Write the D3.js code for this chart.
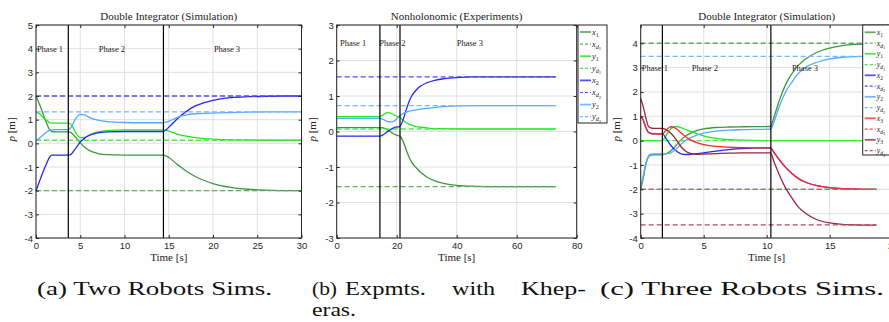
<!DOCTYPE html>
<html>
<head>
<meta charset="utf-8">
<script src="https://cdn.jsdelivr.net/npm/d3@7"></script>
<style>
  body { margin: 0; background: #fff; }
  .serif { font-family: "Liberation Serif", "DejaVu Serif", "Times New Roman", serif; }
  .sans { font-family: "Liberation Sans", Arial, Helvetica, sans-serif; }
</style>
</head>
<body>
<svg id="fig" width="889" height="322"></svg>
<script>
// ---------- data ----------
// (a) two robots, double integrator simulation
const tA  = [0, 0.4, 0.8, 1.2, 1.5, 1.8, 2.2, 3.7, 4.0, 4.5, 5, 5.5, 6, 7, 8, 10, 12, 14.4, 15, 16, 17, 18, 19, 20, 22, 24, 26, 28, 30];
const x1A = [2.0, 1.65, 1.25, 0.85, 0.6, 0.5, 0.48, 0.48, 0.44, 0.24, 0.02, -0.17, -0.3, -0.43, -0.48, -0.5, -0.5, -0.5, -0.6, -0.9, -1.18, -1.4, -1.57, -1.7, -1.86, -1.94, -1.98, -2.0, -2.0];
const y1A = [1.32, 1.25, 1.1, 0.97, 0.88, 0.85, 0.85, 0.85, 0.78, 0.45, 0.24, 0.25, 0.35, 0.48, 0.54, 0.57, 0.57, 0.57, 0.52, 0.38, 0.3, 0.24, 0.2, 0.18, 0.15, 0.14, 0.13, 0.13, 0.13];
const x2A = [-2.0, -1.6, -1.2, -0.85, -0.6, -0.5, -0.5, -0.5, -0.45, -0.2, 0.05, 0.22, 0.33, 0.44, 0.48, 0.5, 0.5, 0.5, 0.68, 1.05, 1.35, 1.58, 1.72, 1.82, 1.93, 1.97, 1.99, 2.0, 2.0];
const y2A = [0.12, 0.22, 0.35, 0.48, 0.55, 0.57, 0.58, 0.58, 0.7, 1.05, 1.22, 1.2, 1.1, 0.98, 0.92, 0.88, 0.87, 0.87, 0.93, 1.1, 1.2, 1.25, 1.27, 1.28, 1.3, 1.32, 1.33, 1.33, 1.33];
const goalsA = [-2, 0.13, 2, 1.33];          // xd1, yd1, xd2, yd2
const phaseA = [3.65, 14.4];

// (b) Khepera experiments
const tB  = [0, 14.4, 15.5, 17, 18.5, 19.5, 21, 22, 23, 24, 25, 26.5, 28, 30, 33, 36, 40, 45, 50, 60, 73];
const x1B = [0.11, 0.11, 0.1, 0.04, -0.04, -0.09, -0.13, -0.25, -0.48, -0.7, -0.87, -1.02, -1.15, -1.28, -1.4, -1.47, -1.52, -1.54, -1.55, -1.55, -1.55];
const y1B = [0.42, 0.42, 0.47, 0.53, 0.5, 0.45, 0.4, 0.33, 0.26, 0.21, 0.18, 0.14, 0.12, 0.1, 0.08, 0.08, 0.07, 0.07, 0.07, 0.07, 0.07];
const x2B = [-0.13, -0.13, -0.09, 0.0, 0.08, 0.12, 0.14, 0.3, 0.57, 0.82, 1.0, 1.17, 1.28, 1.37, 1.45, 1.49, 1.52, 1.54, 1.54, 1.54, 1.54];
const y2B = [0.37, 0.37, 0.34, 0.28, 0.27, 0.32, 0.44, 0.5, 0.54, 0.57, 0.59, 0.61, 0.63, 0.65, 0.68, 0.7, 0.72, 0.73, 0.73, 0.73, 0.73];
const goalsB = [-1.55, 0.07, 1.54, 0.73];
const phaseB = [14.4, 21.1];

// (c) three robots, double integrator simulation
const tC  = [0, 0.2, 0.4, 0.6, 0.8, 1.0, 1.74, 2.0, 2.4, 2.8, 3.2, 3.6, 4.0, 4.5, 5, 6, 7, 8, 10.3, 10.6, 11, 11.5, 12, 12.5, 13, 14, 15, 16, 17, 18.7];
const x1C = [-2.0, -1.55, -1.0, -0.68, -0.6, -0.58, -0.58, -0.55, -0.42, -0.2, 0.03, 0.2, 0.32, 0.42, 0.48, 0.54, 0.56, 0.57, 0.58, 1.0, 1.65, 2.3, 2.75, 3.08, 3.32, 3.63, 3.8, 3.9, 3.95, 3.98];
const y1C = [0, 0, 0, 0, 0, 0, 0, 0.2, 0.5, 0.58, 0.53, 0.45, 0.37, 0.28, 0.2, 0.09, 0.04, 0.02, 0, 0, 0, 0, 0, 0, 0, 0, 0, 0, 0, 0];
const x2C = [1.0, 0.85, 0.55, 0.35, 0.3, 0.28, 0.28, 0.1, -0.2, -0.42, -0.54, -0.57, -0.56, -0.53, -0.5, -0.43, -0.37, -0.33, -0.3, -0.5, -0.78, -1.1, -1.35, -1.55, -1.69, -1.85, -1.93, -1.97, -1.99, -2.0];
const y2C = [-1.9, -1.45, -0.95, -0.65, -0.56, -0.55, -0.55, -0.54, -0.5, -0.35, -0.15, 0.02, 0.13, 0.24, 0.31, 0.39, 0.43, 0.45, 0.47, 0.8, 1.4, 2.0, 2.4, 2.75, 2.98, 3.22, 3.36, 3.42, 3.45, 3.47];
const x3C = [1.0, 0.85, 0.55, 0.35, 0.3, 0.28, 0.28, 0.42, 0.57, 0.5, 0.32, 0.15, 0.02, -0.09, -0.16, -0.24, -0.27, -0.29, -0.3, -0.5, -0.78, -1.1, -1.35, -1.55, -1.69, -1.85, -1.93, -1.97, -1.99, -2.0];
const y3C = [1.73, 1.4, 0.95, 0.6, 0.52, 0.5, 0.5, 0.45, 0.3, 0.05, -0.25, -0.45, -0.53, -0.56, -0.55, -0.53, -0.51, -0.5, -0.5, -0.9, -1.4, -1.95, -2.35, -2.72, -2.95, -3.25, -3.38, -3.44, -3.46, -3.47];
const goalsC = [4, 0, -2, 3.46, -2, -3.46];  // xd1, yd1, xd2, yd2, xd3, yd3
const phaseC = [1.72, 10.33];

const phaseNames = ["Phase 1", "Phase 2", "Phase 3"];
const seriesNames = [["x", "1"], ["x", "d", "1"], ["y", "1"], ["y", "d", "1"],
                     ["x", "2"], ["x", "d", "2"], ["y", "2"], ["y", "d", "2"],
                     ["x", "3"], ["x", "d", "3"], ["y", "3"], ["y", "d", "3"]];
const colors = ["#238b23", "#00e400", "#0a0af0", "#3d9dff", "#ff0a0a", "#8a0a24"]; // x1 y1 x2 y2 x3 y3
const dashColor = c => d3.interpolateRgb(c, "#ffffff")(0.28);
const lightColor = c => d3.interpolateRgb(c, "#ffffff")(0.12);

const svg = d3.select("#fig");
svg.append("rect").attr("width", 889).attr("height", 322).attr("fill", "#fff");

function drawPanel(p) {
  const g = svg.append("g");
  const x = d3.scaleLinear().domain(p.xDomain).range([p.left, p.right]);
  const y = d3.scaleLinear().domain(p.yDomain).range([p.bottom, p.top]);

  // grid
  g.selectAll(".gx").data(p.xTicks).enter().append("line")
    .attr("x1", d => x(d)).attr("x2", d => x(d))
    .attr("y1", p.top).attr("y2", p.bottom)
    .attr("stroke", "#e0e0e0").attr("stroke-width", 1);
  g.selectAll(".gy").data(p.yTicks).enter().append("line")
    .attr("x1", p.left).attr("x2", p.right)
    .attr("y1", d => y(d)).attr("y2", d => y(d))
    .attr("stroke", "#e0e0e0").attr("stroke-width", 1);

  // series: solid trajectory followed by its dashed goal
  const line = d3.line().x(d => x(d[0])).y(d => y(d[1])).curve(d3.curveMonotoneX);
  const tEnd = p.t[p.t.length - 1];
  p.series.forEach((vals, i) => {
    const col = colors[i];
    g.append("path")
      .datum(p.t.map((t, k) => [t, vals[k]]))
      .attr("d", line)
      .attr("fill", "none").attr("stroke", lightColor(col))
      .attr("stroke-width", 1.3);
    g.append("line")
      .attr("x1", x(0)).attr("x2", x(tEnd))
      .attr("y1", y(p.goals[i])).attr("y2", y(p.goals[i]))
      .attr("stroke", dashColor(col)).attr("stroke-width", 1.3)
      .attr("stroke-dasharray", "5,3");
  });

  // phase switches
  g.selectAll(".ph").data(p.phases).enter().append("line")
    .attr("x1", d => x(d)).attr("x2", d => x(d))
    .attr("y1", p.top).attr("y2", p.bottom)
    .attr("stroke", "#000").attr("stroke-width", 1.2);
  g.selectAll(".phl").data(p.phaseLabelT).enter().append("text")
    .attr("class", "serif")
    .attr("x", d => x(d)).attr("y", y(p.phaseLabelY) + 3)
    .attr("font-size", 8.5).attr("fill", "#222")
    .text((d, i) => phaseNames[i]);

  // axes
  const fmt = d => String(d);
  g.append("g").attr("transform", `translate(0,${p.bottom})`)
    .call(d3.axisBottom(x).tickValues(p.xTicks).tickSize(-3).tickPadding(4).tickFormat(fmt));
  g.append("g").attr("transform", `translate(${p.left},0)`)
    .call(d3.axisLeft(y).tickValues(p.yTicks).tickSize(-3).tickPadding(3).tickFormat(fmt));
  g.append("g").attr("transform", `translate(0,${p.top})`)
    .call(d3.axisTop(x).tickValues(p.xTicks).tickSize(-3).tickFormat(""));
  g.append("g").attr("transform", `translate(${p.right},0)`)
    .call(d3.axisRight(y).tickValues(p.yTicks).tickSize(-3).tickFormat(""));
  g.selectAll(".domain").remove();
  g.selectAll(".tick line").attr("stroke", "#262626");
  g.selectAll(".tick text").attr("class", "sans").attr("font-size", 9.5).attr("fill", "#262626");

  g.append("rect")
    .attr("x", p.left).attr("y", p.top)
    .attr("width", p.right - p.left).attr("height", p.bottom - p.top)
    .attr("fill", "none").attr("stroke", "#262626").attr("stroke-width", 1);

  // labels
  const cx = (p.left + p.right) / 2;
  g.append("text").attr("class", "serif").attr("x", cx).attr("y", 20).attr("text-anchor", "middle")
    .attr("font-size", 11).attr("fill", "#222").text(p.title);
  g.append("text").attr("class", "serif").attr("x", cx).attr("y", 261).attr("text-anchor", "middle")
    .attr("font-size", 11).attr("fill", "#222").text("Time [s]");
  const yl = g.append("text").attr("class", "serif")
    .attr("transform", `translate(${p.left - 21},${(p.top + p.bottom) / 2 - 2}) rotate(-90)`)
    .attr("text-anchor", "middle").attr("font-size", 11).attr("fill", "#222");
  yl.append("tspan").attr("font-style", "italic").text("p");
  yl.append("tspan").text(" [m]");

  if (p.legend) drawLegend(p.legend, p.series.length);
}

function drawLegend(L, n) {
  const g = svg.append("g");
  g.append("rect").attr("x", L.x).attr("y", L.y).attr("width", L.w).attr("height", L.h)
    .attr("fill", "#fff").attr("stroke", "#262626").attr("stroke-width", 1);
  for (let i = 0; i < 2 * n; i++) {
    const yy = L.y + L.first + i * L.step;
    const col = colors[Math.floor(i / 2)];
    const dashed = i % 2 === 1;
    g.append("line")
      .attr("x1", L.x + 2).attr("x2", L.x + 13).attr("y1", yy).attr("y2", yy)
      .attr("stroke", dashed ? dashColor(col) : d3.interpolateRgb(col, "#fff")(0.3))
      .attr("stroke-width", dashed ? 1.2 : 1.8)
      .attr("stroke-dasharray", dashed ? "3,2" : null);
    const nm = seriesNames[i];
    const t = g.append("text").attr("class", "serif").attr("x", L.x + 14).attr("y", yy + 2.5)
      .attr("font-size", L.fs).attr("fill", "#222");
    t.append("tspan").attr("font-style", "italic").text(nm[0]);
    t.append("tspan").attr("dy", 2).attr("font-size", L.fs * 0.72)
      .attr("font-style", nm.length === 3 ? "italic" : "normal").text(nm[1]);
    if (nm.length === 3) {
      t.append("tspan").attr("dy", 1.5).attr("font-size", L.fs * 0.55).text(nm[2]);
    }
  }
}

drawPanel({
  title: "Double Integrator (Simulation)",
  left: 36, right: 301.5, top: 25, bottom: 238,
  xDomain: [0, 30], yDomain: [-4, 5],
  xTicks: [0, 5, 10, 15, 20, 25, 30], yTicks: d3.range(-4, 6),
  t: tA, series: [x1A, y1A, x2A, y2A], goals: goalsA,
  phases: phaseA, phaseLabelT: [0.1, 7.1, 20.1], phaseLabelY: 4
});

drawPanel({
  title: "Nonholonomic (Experiments)",
  left: 336.7, right: 576.7, top: 25, bottom: 238,
  xDomain: [0, 80], yDomain: [-3, 3],
  xTicks: [0, 20, 40, 60, 80], yTicks: d3.range(-3, 4),
  t: tB, series: [x1B, y1B, x2B, y2B], goals: goalsB,
  phases: phaseB, phaseLabelT: [1.1, 14.2, 40], phaseLabelY: 2.5,
  legend: { x: 578, y: 25, w: 29, h: 98, first: 7, step: 12.1, fs: 8.5 }
});

drawPanel({
  title: "Double Integrator (Simulation)",
  left: 640.7, right: 892.7, top: 25, bottom: 238,
  xDomain: [0, 20], yDomain: [-4, 4.75],
  xTicks: [0, 5, 10, 15, 20], yTicks: d3.range(-4, 5),
  t: tC, series: [x1C, y1C, x2C, y2C, x3C, y3C], goals: goalsC,
  phases: phaseC, phaseLabelT: [0.08, 4.05, 12.0], phaseLabelY: 3,
  legend: { x: 862.7, y: 25, w: 40, h: 130, first: 7.3, step: 10.75, fs: 7.8 }
});

// sub-figure captions
const cap = svg.append("g").attr("class", "serif").attr("font-size", 19).attr("fill", "#111");
cap.append("text").attr("x", 37).attr("y", 295).attr("textLength", 235)
  .attr("lengthAdjust", "spacingAndGlyphs").text("(a) Two Robots Sims.");
[["(b)", 312, 25], ["Expmts.", 345, 81], ["with", 452, 43], ["Khep-", 521, 65]].forEach(w => {
  cap.append("text").attr("x", w[1]).attr("y", 295).attr("textLength", w[2])
    .attr("lengthAdjust", "spacingAndGlyphs").text(w[0]);
});
cap.append("text").attr("x", 312).attr("y", 316).attr("textLength", 44)
  .attr("lengthAdjust", "spacingAndGlyphs").text("eras.");
cap.append("text").attr("x", 600).attr("y", 295).attr("textLength", 284)
  .attr("lengthAdjust", "spacingAndGlyphs").text("(c) Three Robots Sims.");
</script>
</body>
</html>
